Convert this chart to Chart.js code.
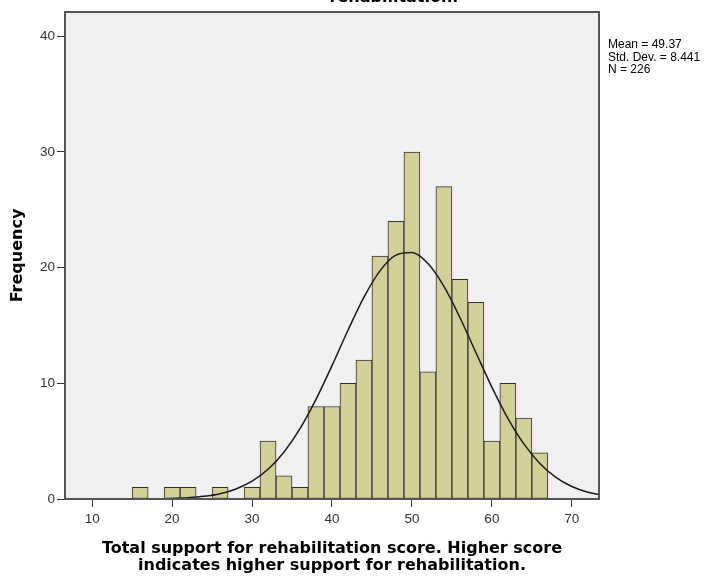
<!DOCTYPE html>
<html>
<head>
<meta charset="utf-8">
<script src="https://cdn.jsdelivr.net/npm/chart.js@4/dist/chart.umd.min.js"></script>
<style>
  html, body { margin: 0; padding: 0; background: #ffffff; }
  #wrap { width: 715px; height: 577px; }
</style>
</head>
<body>
<div id="wrap"><canvas id="c" width="715" height="577"></canvas></div>
<script>
// Histogram bins (bin centres, width 2) and frequencies
const binCenters = [16, 18, 20, 22, 24, 26, 28, 30, 32, 34, 36, 38, 40, 42, 44, 46, 48, 50, 52, 54, 56, 58, 60, 62, 64, 66];
const frequencies = [1, 0, 1, 1, 0, 1, 0, 1, 5, 2, 1, 8, 8, 10, 12, 21, 24, 30, 11, 27, 19, 17, 5, 10, 7, 4];

// Fitted normal curve
const curveX = [6, 8, 10, 12, 14, 16, 18, 20, 22, 24, 26, 28, 30, 32, 34, 36, 38, 40, 42, 44, 46, 48, 50, 52, 54, 56, 58, 60, 62, 64, 66, 68, 70, 72, 74];
const curveY = [0, 0, 0, 0, 0.002, 0.007, 0.021, 0.05, 0.11, 0.23, 0.46, 0.87, 1.54, 2.57, 4.07, 6.09, 8.62, 11.53, 14.59, 17.45, 19.72, 21.08, 21.30, 20.35, 18.38, 15.69, 12.66, 9.67, 6.97, 4.76, 3.07, 1.87, 1.08, 0.59, 0.30];

// Axis ticks
const xTicks = [10, 20, 30, 40, 50, 60, 70];
const yTicks = [0, 10, 20, 30, 40];

// Texts
const statsLines = ["Mean = 49.37", "Std. Dev. = 8.441", "N = 226"];
const titleTail = "rehabilitation.";
const xTitle = ["Total support for rehabilitation score. Higher score", "indicates higher support for rehabilitation."];
const yTitle = "Frequency";

const barData = binCenters.map((x, i) => ({ x: x, y: frequencies[i] }));
const curveData = curveX.map((x, i) => ({ x: x, y: curveY[i] }));

const framePlugin = {
  id: 'frame',
  beforeDatasetsDraw(chart) {
    const { ctx, chartArea: a } = chart;
    ctx.save();
    ctx.fillStyle = '#f0f0f0';
    ctx.fillRect(a.left, a.top, a.right - a.left, a.bottom - a.top);
    ctx.restore();
  },
  afterDraw(chart) {
    const { ctx, chartArea: a } = chart;
    ctx.save();
    ctx.strokeStyle = '#555555';
    ctx.lineWidth = 2;
    ctx.strokeRect(a.left, a.top, a.right - a.left, a.bottom - a.top);
    // stats box text
    ctx.fillStyle = '#000000';
    ctx.font = '12px "Liberation Sans", Arial, sans-serif';
    ctx.textBaseline = 'alphabetic';
    ctx.textAlign = 'left';
    statsLines.forEach((t, i) => ctx.fillText(t, a.right + 9, 48 + i * 12.5));
    // cut-off title tail
    ctx.font = 'bold 16px "DejaVu Sans", sans-serif';
    ctx.textAlign = 'center';
    ctx.fillText(titleTail, 394, 2);
    ctx.restore();
  }
};

new Chart(document.getElementById('c'), {
  data: {
    datasets: [
      {
        type: 'line',
        data: curveData,
        borderColor: '#1a1a1a',
        borderWidth: 1.5,
        pointRadius: 0,
        fill: false,
        tension: 0.4,
        cubicInterpolationMode: 'monotone',
        order: 0
      },
      {
        type: 'bar',
        data: barData,
        backgroundColor: '#d3cf98',
        borderColor: '#333333',
        borderWidth: ctx => (ctx.raw && ctx.raw.y ? 1 : 0),
        borderSkipped: false,
        barPercentage: 1,
        categoryPercentage: 1,
        grouped: false,
        order: 1
      }
    ]
  },
  options: {
    responsive: false,
    animation: false,
    layout: { padding: { left: 0, right: 116, top: 12, bottom: 0 } },
    plugins: { legend: { display: false }, tooltip: { enabled: false } },
    scales: {
      x: {
        type: 'linear',
        min: 6.6,
        max: 73.4,
        offset: false,
        afterBuildTicks: s => { s.ticks = xTicks.map(v => ({ value: v })); },
        afterFit: s => { s.height = 78; },
        grid: { display: true, offset: false, drawOnChartArea: false, drawTicks: true, tickLength: 8, color: '#333333', lineWidth: 1 },
        border: { display: true, color: '#555555', width: 2 },
        ticks: { color: '#333333', padding: 4, font: { family: '"Liberation Sans", Arial, sans-serif', size: 13.5 }, maxRotation: 0 },
        title: {
          display: true,
          text: xTitle,
          color: '#000000',
          font: { family: '"DejaVu Sans", sans-serif', size: 16, weight: 'bold', lineHeight: 1.0625 },
          padding: { top: 0, bottom: 2.5 }
        }
      },
      y: {
        type: 'linear',
        min: 0,
        max: 42.1,
        afterBuildTicks: s => { s.ticks = yTicks.map(v => ({ value: v })); },
        afterFit: s => { s.width = 65; },
        grid: { display: true, offset: false, drawOnChartArea: false, drawTicks: true, tickLength: 8, color: '#333333', lineWidth: 1 },
        border: { display: true, color: '#555555', width: 2 },
        ticks: { color: '#333333', padding: 2, font: { family: '"Liberation Sans", Arial, sans-serif', size: 13.5 } },
        title: {
          display: true,
          text: yTitle,
          color: '#000000',
          font: { family: '"DejaVu Sans", sans-serif', size: 16, weight: 'bold', lineHeight: 1.2 },
          padding: { top: 8.4, bottom: 0 }
        }
      }
    }
  },
  plugins: [framePlugin]
});
</script>
</body>
</html>
